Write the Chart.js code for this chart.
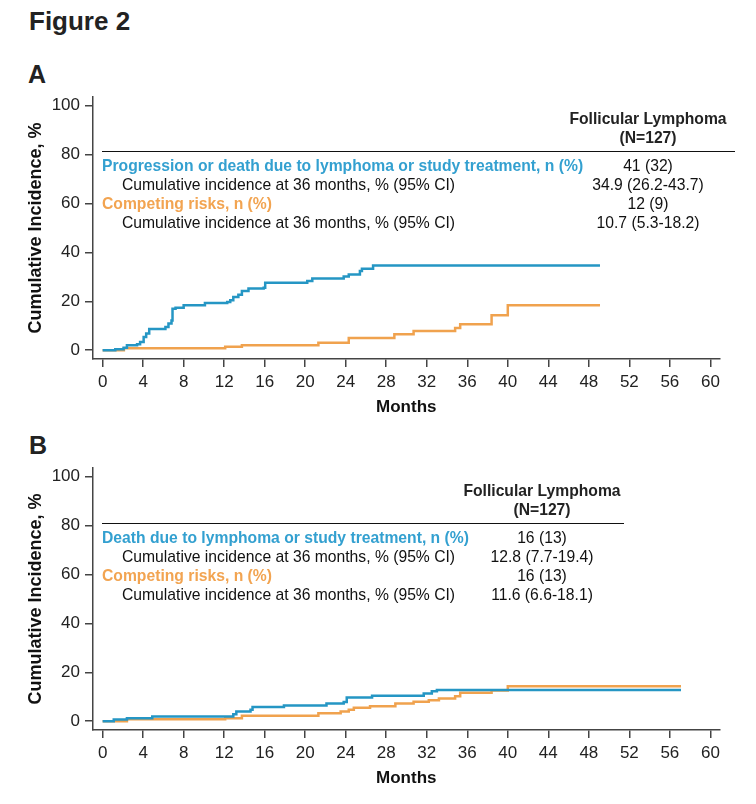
<!DOCTYPE html>
<html>
<head>
<meta charset="utf-8">
<script src="https://cdn.jsdelivr.net/npm/chart.js@4.4.1/dist/chart.umd.min.js"></script>
<style>
  html, body { margin: 0; padding: 0; background: #fff; }
  body { width: 756px; height: 804px; position: relative; overflow: hidden; font-family: "Liberation Sans", Arial, sans-serif; color: #222; }
  canvas { position: absolute; left: 0; }
  .t { position: absolute; white-space: nowrap; line-height: 20px; height: 20px; font-size: 15.7px; }
  .b { font-weight: bold; }
  .c { transform: translateX(-50%); text-align: center; }
  .rule { position: absolute; height: 0; border-top: 1.5px solid #111; }
</style>
</head>
<body>
<div class="t b" style="left:29px;top:8px;font-size:26px;line-height:26px;height:26px;">Figure 2</div>
<div class="t b" style="left:28px;top:61px;font-size:25px;line-height:26px;height:26px;">A</div>
<div class="t b" style="left:29px;top:432px;font-size:25px;line-height:26px;height:26px;">B</div>
<div style="position:absolute;left:0;top:80.7px;width:756px;height:347.3px;"><canvas id="cA" width="756" height="347" style="top:0"></canvas></div>
<div style="position:absolute;left:0;top:452.3px;width:756px;height:346.7px;"><canvas id="cB" width="756" height="347" style="top:0"></canvas></div>
<div id="tables"></div>
<script>
// ---------- Data ----------
const xTicks = [0, 4, 8, 12, 16, 20, 24, 28, 32, 36, 40, 44, 48, 52, 56, 60];
const yTicks = [0, 20, 40, 60, 80, 100];

// Panel A: progression or death due to lymphoma or study treatment
const aProgMonths = [0, 1.25, 2.07, 2.4, 3.4, 3.7, 4.05, 4.3, 4.6, 6.2, 6.5, 6.8, 6.9, 7.2, 8.0, 10.1, 12.3, 12.6, 12.9, 13.4, 13.75, 14.4, 15.9, 16.05, 20.2, 20.7, 23.8, 24.3, 25.4, 25.6, 26.7, 49.1];
const aProgValues = [0, 0.4, 1.0, 2.0, 2.4, 3.4, 5.4, 6.8, 8.7, 9.5, 10.9, 12.2, 17.0, 17.4, 18.4, 19.3, 19.7, 20.4, 21.8, 22.7, 24.2, 25.2, 25.6, 27.6, 28.3, 29.3, 30.2, 31.0, 32.4, 33.3, 34.7, 34.7];
// Panel A: competing risks
const aCompMonths = [0, 2.1, 12.1, 13.75, 21.3, 24.3, 28.8, 30.7, 34.8, 35.3, 38.4, 40.0, 49.1];
const aCompValues = [0, 0.8, 1.4, 2.0, 3.0, 5.0, 6.5, 7.9, 9.1, 10.6, 14.3, 18.4, 18.4];

// Panel B: death due to lymphoma or study treatment
const bDeathMonths = [0, 1.1, 2.4, 4.9, 12.9, 13.2, 14.6, 14.8, 17.9, 22.1, 23.8, 24.1, 26.6, 31.7, 32.5, 33.0, 57.1];
const bDeathValues = [0, 0.7, 1.2, 1.9, 2.8, 4.0, 4.7, 5.8, 6.4, 7.2, 7.9, 9.7, 10.4, 11.3, 12.3, 12.8, 12.8];
// Panel B: competing risks
const bCompMonths = [0, 2.4, 12.1, 13.75, 21.3, 23.5, 24.3, 24.8, 26.4, 28.9, 30.7, 32.2, 33.2, 34.8, 35.3, 38.4, 40.0, 57.1];
const bCompValues = [0, 0.8, 1.2, 2.2, 3.3, 4.0, 4.7, 5.5, 6.1, 7.2, 8.0, 8.6, 9.3, 10.2, 11.6, 12.6, 14.3, 14.3];

// Table texts
const tableA = {
  header: ["Follicular Lymphoma", "(N=127)"],
  rows: [
    ["Progression or death due to lymphoma or study treatment, n (%)", "41 (32)", "blue"],
    ["Cumulative incidence at 36 months, % (95% CI)", "34.9 (26.2-43.7)", "sub"],
    ["Competing risks, n (%)", "12 (9)", "orange"],
    ["Cumulative incidence at 36 months, % (95% CI)", "10.7 (5.3-18.2)", "sub"]
  ]
};
const tableB = {
  header: ["Follicular Lymphoma", "(N=127)"],
  rows: [
    ["Death due to lymphoma or study treatment, n (%)", "16 (13)", "blue"],
    ["Cumulative incidence at 36 months, % (95% CI)", "12.8 (7.7-19.4)", "sub"],
    ["Competing risks, n (%)", "16 (13)", "orange"],
    ["Cumulative incidence at 36 months, % (95% CI)", "11.6 (6.6-18.1)", "sub"]
  ]
};

// ---------- Styles ----------
const BLUE = "#2596c4";
const ORANGE = "#f0a24e";
const BLUE_TXT = "#33a0d0";
const ORANGE_TXT = "#f2a451";
const FONT = "'Liberation Sans', Arial, sans-serif";

function pts(xs, ys) { return xs.map((x, i) => ({ x: x, y: ys[i] })); }

function makeChart(id, d1, d2) {
  return new Chart(document.getElementById(id), {
    type: 'line',
    data: {
      datasets: [
        { data: d1, borderColor: BLUE, borderWidth: 2.5, stepped: 'before', pointRadius: 0, fill: false },
        { data: d2, borderColor: ORANGE, borderWidth: 2.5, stepped: 'before', pointRadius: 0, fill: false }
      ]
    },
    options: {
      responsive: false,
      animation: false,
      events: [],
      layout: { padding: { top: 16, right: 36.5, left: 0, bottom: 0 } },
      plugins: { legend: { display: false }, tooltip: { enabled: false } },
      scales: {
        x: {
          type: 'linear', min: -0.95, max: 60.9,
          afterBuildTicks: s => { s.ticks = xTicks.map(v => ({ value: v })); },
          afterFit: s => { s.height = 69; },
          ticks: { color: '#222', font: { family: FONT, size: 17 }, padding: 5, maxRotation: 0, autoSkip: false },
          grid: { display: true, drawOnChartArea: false, drawTicks: true, tickLength: 8, color: '#444', lineWidth: 1.5 },
          border: { display: true, color: '#444', width: 1.5 },
          title: { display: true, text: 'Months', color: '#111', font: { family: FONT, size: 17, weight: 'bold' }, padding: { top: 0, bottom: 10 } }
        },
        y: {
          type: 'linear', min: -3.6, max: 103.6,
          afterBuildTicks: s => { s.ticks = yTicks.map(v => ({ value: v })); },
          afterFit: s => { s.width = 93; },
          ticks: { color: '#222', font: { family: FONT, size: 17 }, padding: 5, autoSkip: false },
          grid: { display: true, drawOnChartArea: false, drawTicks: true, tickLength: 8, color: '#444', lineWidth: 1.5 },
          border: { display: true, color: '#444', width: 1.5 },
          title: { display: true, text: 'Cumulative Incidence, %', color: '#111', font: { family: FONT, size: 18, weight: 'bold' }, padding: { top: 25, bottom: 0 } }
        }
      }
    }
  });
}

makeChart('cA', pts(aProgMonths, aProgValues), pts(aCompMonths, aCompValues));
makeChart('cB', pts(bDeathMonths, bDeathValues), pts(bCompMonths, bCompValues));

// ---------- Tables (real text) ----------
function addText(txt, left, cy, cls, color) {
  const d = document.createElement('div');
  d.className = 't ' + (cls || '');
  d.textContent = txt;
  d.style.left = left + 'px';
  d.style.top = (cy - 10) + 'px';
  if (color) d.style.color = color;
  document.getElementById('tables').appendChild(d);
}
function addRule(x1, x2, y) {
  const r = document.createElement('div');
  r.className = 'rule';
  r.style.left = x1 + 'px';
  r.style.width = (x2 - x1) + 'px';
  r.style.top = y + 'px';
  document.getElementById('tables').appendChild(r);
}
function drawTable(tb, colX, hY, ruleY, ruleX2, rowY) {
  addText(tb.header[0], colX, hY[0], 'b c', '#222');
  addText(tb.header[1], colX, hY[1], 'b c', '#222');
  addRule(102, ruleX2, ruleY);
  tb.rows.forEach((r, i) => {
    const kind = r[2];
    if (kind === 'blue') addText(r[0], 102, rowY[i], 'b', BLUE_TXT);
    else if (kind === 'orange') addText(r[0], 102, rowY[i], 'b', ORANGE_TXT);
    else addText(r[0], 122, rowY[i], '', '#111');
    addText(r[1], colX, rowY[i], 'c', '#111');
  });
}
drawTable(tableA, 648, [119, 138], 150.5, 735, [166, 185, 204, 222.5]);
drawTable(tableB, 542, [491, 510], 522.5, 624, [537.5, 556.5, 575.5, 594.5]);
</script>
</body>
</html>
